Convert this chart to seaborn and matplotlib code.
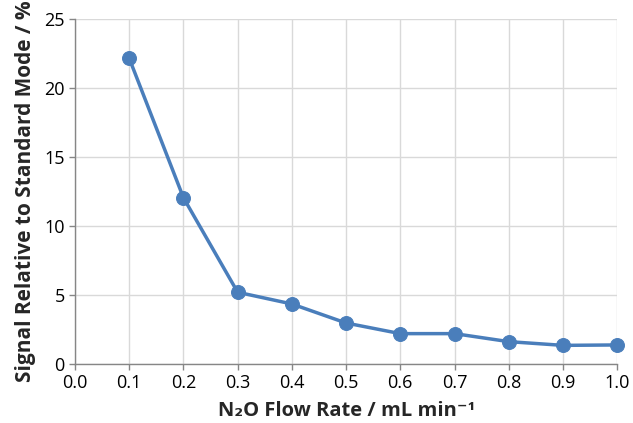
import matplotlib
matplotlib.use("Agg")
import matplotlib.pyplot as plt
import seaborn as sns
import pandas as pd

flow_rate = [0.1, 0.2, 0.3, 0.4, 0.5, 0.6, 0.7, 0.8, 0.9, 1.0]
signal = [22.15, 12.05, 5.2, 4.35, 2.97, 2.2, 2.2, 1.62, 1.35, 1.38]
x_ticks = [0.0, 0.1, 0.2, 0.3, 0.4, 0.5, 0.6, 0.7, 0.8, 0.9, 1.0]
y_ticks = [0, 5, 10, 15, 20, 25]

df = pd.DataFrame({"flow": flow_rate, "signal": signal})

sns.set_theme(style="white")
plt.rcParams['font.family'] = ['Open Sans', 'DejaVu Sans']

fig = plt.figure(figsize=(6.33, 4.23), dpi=100)
ax = fig.add_axes([0.1185, 0.1395, 0.8565, 0.8155])

color = "#4a7ebb"
sns.lineplot(data=df, x="flow", y="signal", ax=ax, color=color, linewidth=2.5,
             marker="o", markersize=10, markeredgecolor=color, markerfacecolor=color,
             clip_on=False, zorder=5)

ax.set_xlim(0, 1.0)
ax.set_ylim(0, 25)
ax.set_xticks(x_ticks)
ax.set_xticklabels([f"{v:.1f}" for v in x_ticks])
ax.set_yticks(y_ticks)
ax.grid(True, color="#d9d9d9", linewidth=1)
for s in ["top", "right"]:
    ax.spines[s].set_visible(False)
for s in ["left", "bottom"]:
    ax.spines[s].set_color("#868686")
    ax.spines[s].set_linewidth(1)
ax.tick_params(axis="both", which="major", direction="out", length=4, width=1,
               color="#868686", labelsize=13, labelcolor="black", left=True, bottom=True)
ax.set_xlabel("N₂O Flow Rate / mL min⁻¹", fontsize=14.5, fontweight="bold",
              family=['Open Sans', 'DejaVu Sans'], labelpad=6)
ax.set_ylabel("Signal Relative to Standard Mode / %", fontsize=15, fontweight="bold",
              labelpad=6)

fig.savefig("out.png", dpi=100)
